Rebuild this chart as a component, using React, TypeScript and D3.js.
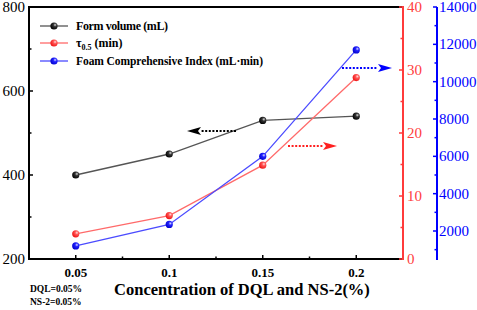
import React from "react";
import * as d3 from "d3";

const concentrations = [0.05, 0.1, 0.15, 0.2];
const formVolume = [400, 450, 530, 540];
const tau05 = [4.0, 6.9, 14.9, 28.8];
const foamIndex = [1200, 2350, 6000, 11700];
const xTicks = [0.05, 0.1, 0.15, 0.2];
const xMinor = [0.075, 0.125, 0.175];
const leftTicks = [200, 400, 600, 800];
const leftMinor = [300, 500, 700];
const redTicks = [0, 10, 20, 30, 40];
const redMinor = [5, 15, 25, 35];
const blueTicks = [2000, 4000, 6000, 8000, 10000, 12000, 14000];
const blueMinor = [1000, 3000, 5000, 7000, 9000, 11000, 13000];

const FONT = "'Liberation Serif', 'Times New Roman', serif";
const L = 29, R = 403, T = 7, B = 259, BX = 437;

export default function App() {
  const x = d3.scaleLinear().domain([0.025, 0.225]).range([L, R]);
  const yL = d3.scaleLinear().domain([200, 800]).range([B, T]);
  const yR = d3.scaleLinear().domain([0, 40]).range([B, T]);
  const yB = d3.scaleLinear().domain([500, 14000]).range([B, T]);

  const lineFn = (ys: number[], sc: d3.ScaleLinear<number, number>) =>
    d3.line<number>().x((_, i) => x(concentrations[i])).y((d) => sc(d))(ys) || "";

  const series = [
    { vals: formVolume, sc: yL, line: "#555", grad: "gBlack" },
    { vals: tau05, sc: yR, line: "#ff6a6a", grad: "gRed" },
    { vals: foamIndex, sc: yB, line: "#4b4bff", grad: "gBlue" },
  ];

  const ball = (cx: number, cy: number, g: string, key?: any) => (
    <circle key={key} cx={cx} cy={cy} r={3.6} fill={`url(#${g})`} />
  );

  const arrow = (x1: number, x2: number, y: number, color: string, dir: 1 | -1) => {
    const headLen = 14;
    const base = x2 - dir * headLen;
    return (
      <g>
        <line x1={x1} y1={y} x2={base} y2={y} stroke={color} strokeWidth={2.2} strokeDasharray="2,1.6" />
        <path d={`M${x2},${y} L${base},${y - 4} L${base + dir * 3},${y} L${base},${y + 4} Z`} fill={color} />
      </g>
    );
  };

  return (
    <svg width={477} height={310} style={{ position: "absolute", left: 0, top: 0, background: "#fff" }}>
      <defs>
        <radialGradient id="gBlack" cx="0.65" cy="0.35" r="0.7">
          <stop offset="0" stopColor="#dddddd" />
          <stop offset="0.35" stopColor="#333" />
          <stop offset="1" stopColor="#000" />
        </radialGradient>
        <radialGradient id="gRed" cx="0.65" cy="0.35" r="0.7">
          <stop offset="0" stopColor="#ffdddd" />
          <stop offset="0.35" stopColor="#ff5555" />
          <stop offset="1" stopColor="#ee1111" />
        </radialGradient>
        <radialGradient id="gBlue" cx="0.65" cy="0.35" r="0.7">
          <stop offset="0" stopColor="#ddddff" />
          <stop offset="0.35" stopColor="#2222ff" />
          <stop offset="1" stopColor="#0000cc" />
        </radialGradient>
      </defs>

      {/* frame */}
      <line x1={L} y1={T} x2={R} y2={T} stroke="#000" strokeWidth={2} />
      <line x1={L} y1={T - 1} x2={L} y2={B + 1} stroke="#000" strokeWidth={2} />
      <line x1={L - 1} y1={B} x2={R} y2={B} stroke="#000" strokeWidth={2} />
      <line x1={R} y1={T - 1} x2={R} y2={B + 1} stroke="#ff3b3b" strokeWidth={2} />
      <line x1={BX} y1={T} x2={BX} y2={B + 1} stroke="#0000ff" strokeWidth={2} />

      {/* left axis */}
      {leftTicks.map((v) => (
        <g key={"l" + v}>
          <line x1={L} x2={L + 4} y1={yL(v)} y2={yL(v)} stroke="#000" strokeWidth={1.5} />
          <text x={L - 4} y={yL(v) + 5} textAnchor="end" fontFamily={FONT} fontSize={15}>{v}</text>
        </g>
      ))}
      {leftMinor.map((v) => (
        <line key={"lm" + v} x1={L} x2={L + 2.5} y1={yL(v)} y2={yL(v)} stroke="#000" strokeWidth={1.5} />
      ))}

      {/* bottom axis */}
      {xTicks.map((v) => (
        <g key={"x" + v}>
          <line x1={x(v)} x2={x(v)} y1={B} y2={B - 4} stroke="#000" strokeWidth={1.5} />
          <text x={x(v)} y={277} textAnchor="middle" fontFamily={FONT} fontSize={13} fontWeight="bold">{v}</text>
        </g>
      ))}
      {xMinor.map((v) => (
        <line key={"xm" + v} x1={x(v)} x2={x(v)} y1={B} y2={B - 2.5} stroke="#000" strokeWidth={1.5} />
      ))}

      {/* red axis */}
      {redTicks.map((v) => (
        <g key={"r" + v}>
          <line x1={R} x2={R - 4} y1={yR(v)} y2={yR(v)} stroke="#ff3b3b" strokeWidth={1.5} />
          <text x={R + 4} y={yR(v) + 5} fontFamily={FONT} fontSize={15} fill="#ff4040">{v}</text>
        </g>
      ))}
      {redMinor.map((v) => (
        <line key={"rm" + v} x1={R} x2={R - 2.5} y1={yR(v)} y2={yR(v)} stroke="#ff3b3b" strokeWidth={1.5} />
      ))}

      {/* blue axis */}
      {blueTicks.map((v) => (
        <g key={"b" + v}>
          <line x1={BX} x2={BX - 4} y1={yB(v)} y2={yB(v)} stroke="#0000ff" strokeWidth={1.5} />
          <text x={BX + 2} y={yB(v) + 5} fontFamily={FONT} fontSize={15} fill="#0000ff">{v}</text>
        </g>
      ))}
      {blueMinor.map((v) => (
        <line key={"bm" + v} x1={BX} x2={BX - 2.5} y1={yB(v)} y2={yB(v)} stroke="#0000ff" strokeWidth={1.5} />
      ))}

      {/* series */}
      {series.map((s, si) => (
        <g key={"s" + si}>
          <path d={lineFn(s.vals, s.sc)} fill="none" stroke={s.line} strokeWidth={1.3} />
          {s.vals.map((v, i) => ball(x(concentrations[i]), s.sc(v), s.grad, i))}
        </g>
      ))}

      {/* arrows */}
      {arrow(236, 187, 131, "#000", -1)}
      {arrow(288, 337, 146, "#ff2020", 1)}
      {arrow(342, 392, 68, "#0000ff", 1)}

      {/* legend */}
      {[
        { y: 26, line: "#555", grad: "gBlack" },
        { y: 43, line: "#ff6a6a", grad: "gRed" },
        { y: 61, line: "#4b4bff", grad: "gBlue" },
      ].map((l, i) => (
        <g key={"lg" + i}>
          <line x1={40} x2={68} y1={l.y} y2={l.y} stroke={l.line} strokeWidth={1.3} />
          {ball(54, l.y, l.grad)}
        </g>
      ))}
      <text x={76} y={30} fontFamily={FONT} fontSize={12} fontWeight="bold" textLength={92} lengthAdjust="spacing">Form volume (mL)</text>
      <text x={76} y={47} fontFamily={FONT} fontSize={12} fontWeight="bold">
        τ<tspan fontSize={8} dy={3}>0.5</tspan><tspan dy={-3}> (min)</tspan>
      </text>
      <text x={76} y={65} fontFamily={FONT} fontSize={11.5} fontWeight="bold" textLength={187} lengthAdjust="spacing">Foam Comprehensive Index (mL·min)</text>

      {/* titles */}
      <text x={242} y={295} textAnchor="middle" fontFamily={FONT} fontSize={16.5} fontWeight="bold">Concentration of DQL and NS-2(%)</text>
      <text x={30} y={292} fontFamily={FONT} fontSize={9.5} fontWeight="bold">DQL=0.05%</text>
      <text x={30} y={305} fontFamily={FONT} fontSize={9.5} fontWeight="bold">NS-2=0.05%</text>
    </svg>
  );
}
